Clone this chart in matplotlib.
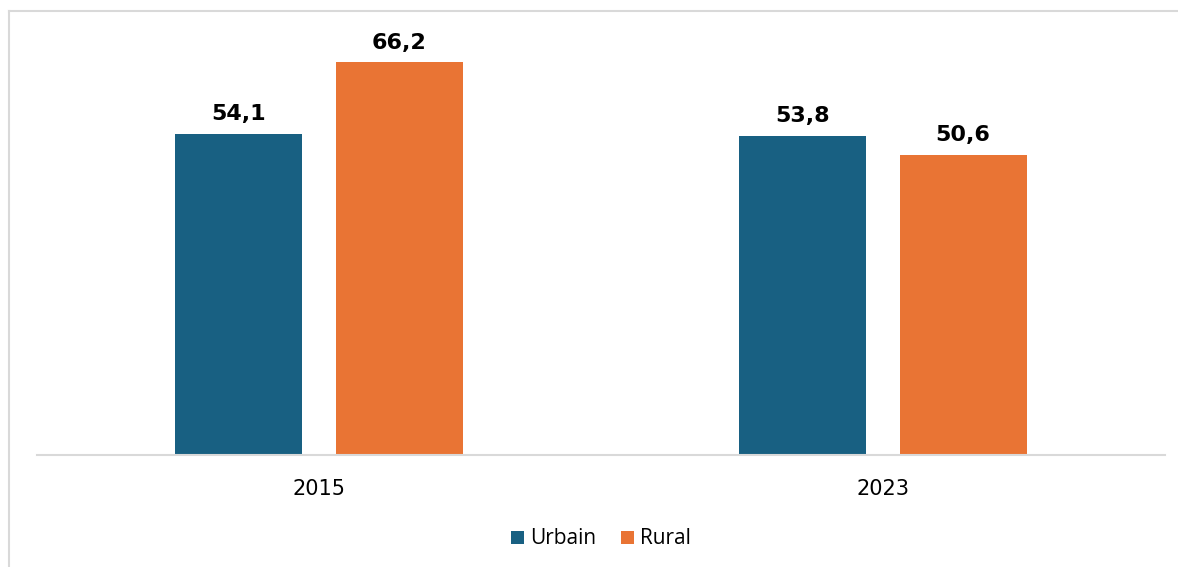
import numpy as np
import matplotlib.pyplot as plt
from matplotlib.lines import Line2D

# data
years = ["2015", "2023"]
urbain = [54.1, 53.8]
rural = [66.2, 50.6]
series_names = ["Urbain", "Rural"]
colors = ["#186082", "#E97434"]

fig = plt.figure(figsize=(11.78, 5.67), dpi=100)
ax = fig.add_axes([37 / 1178, 1 - 455 / 567, 1128 / 1178, 444 / 567])

x = np.arange(len(years))
w = 0.225
off = 0.142

b1 = ax.bar(x - off, urbain, w, color=colors[0], label=series_names[0])
b2 = ax.bar(x + off, rural, w, color=colors[1], label=series_names[1])

for bars in (b1, b2):
    for b in bars:
        ax.text(b.get_x() + b.get_width() / 2, b.get_height() + 1.6,
                f"{b.get_height():.1f}".replace(".", ","),
                ha="center", va="bottom", fontsize=16, fontweight="bold",
                color="black")

ax.set_xlim(-0.5, 1.5)
ax.set_ylim(0, 74.8)
ax.set_xticks(x)
ax.set_xticklabels(years, fontsize=15)
ax.tick_params(axis="x", length=0, pad=17)
ax.set_yticks([])
for s in ["top", "right", "left"]:
    ax.spines[s].set_visible(False)
ax.spines["bottom"].set_color("#D9D9D9")
ax.spines["bottom"].set_linewidth(1.5)

leg = fig.legend(handles=[b1, b2], loc="center", bbox_to_anchor=(601 / 1178, 1 - 539 / 567),
                 ncol=2, frameon=False, handlelength=0.6, handleheight=0.6,
                 handletextpad=0.3, columnspacing=1.2,
                 prop={"family": "Open Sans", "size": 15})

# outer frame lines of the chart area
fig.add_artist(Line2D([9 / 1178, 1], [1 - 11 / 567] * 2, color="#D9D9D9", lw=1.5))
fig.add_artist(Line2D([9 / 1178] * 2, [0, 1 - 11 / 567], color="#D9D9D9", lw=1.5))

fig.savefig("out.png", dpi=100)
